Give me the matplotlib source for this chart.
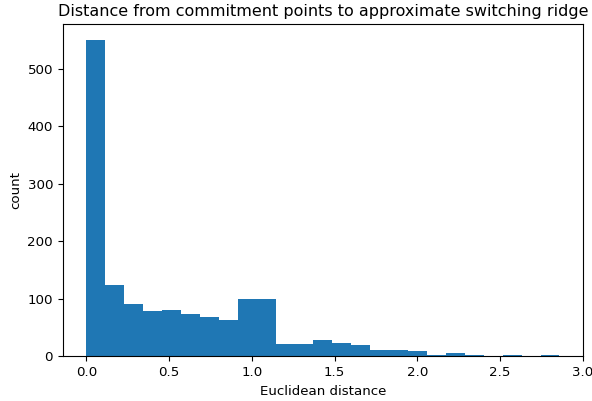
import numpy as np
import matplotlib.pyplot as plt

# histogram counts per bin (25 equal bins from 0 to ~2.86)
bin_lo = 0.0
bin_hi = 2.86
counts = [550, 125, 91, 79, 81, 74, 69, 64, 100, 100,
          21, 21, 29, 23, 20, 11, 11, 9, 2, 6,
          2, 0, 2, 0, 2]

plt.rcParams['font.size'] = 9.6

edges = np.linspace(bin_lo, bin_hi, len(counts) + 1)
centers = (edges[:-1] + edges[1:]) / 2

fig, ax = plt.subplots(figsize=(5.92, 4.01), dpi=100)
ax.hist(centers, bins=edges, weights=counts, color='#1f77b4')
ax.set_title('Distance from commitment points to approximate switching ridge')
ax.set_xlabel('Euclidean distance')
ax.set_ylabel('count')

plt.subplots_adjust(left=0.106, right=0.985, top=0.94, bottom=0.111)
plt.savefig('out.png')
